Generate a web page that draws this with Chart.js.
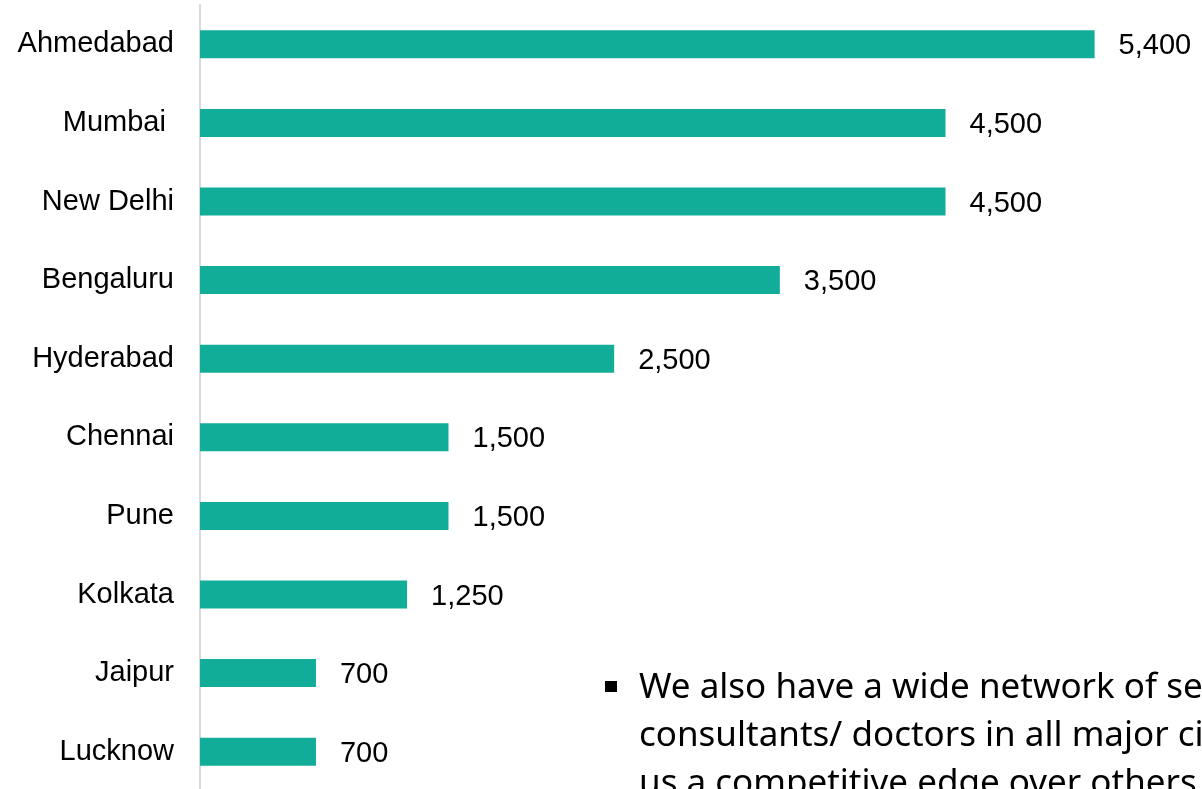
<!DOCTYPE html>
<html>
<head>
<meta charset="utf-8">
<script src="https://cdn.jsdelivr.net/npm/chart.js@4"></script>
<style>
    html, body { margin: 0; padding: 0; background: #fff; overflow: hidden; width: 1202px; height: 789px; }
    #wrap { position: absolute; left: 0; top: 0; width: 1202px; height: 800px; }
    #note {
        position: absolute; left: 605px; top: 661px; white-space: nowrap;
        font-family: "Noto Sans", "Open Sans", sans-serif; font-size: 35px; line-height: 48px; color: #000;
    }
    #note .bullet { position: absolute; left: 0; top: 20px; width: 12px; height: 11px; background: #000; }
    #note .txt { margin-left: 34px; }
</style>
</head>
<body>
<div id="wrap"><canvas id="cityChart" width="1202" height="800"></canvas></div>
<div id="note">
    <div class="bullet"></div>
    <div class="txt">We also have a wide network of senior<br>consultants/ doctors in all major cities, giving<br>us a competitive edge over others</div>
</div>
<script>
// city names and values
const cities = ['Ahmedabad', 'Mumbai ', 'New Delhi', 'Bengaluru', 'Hyderabad', 'Chennai', 'Pune', 'Kolkata', 'Jaipur', 'Lucknow'];
const counts = [5400, 4500, 4500, 3500, 2500, 1500, 1500, 1250, 700, 700];

const barColor = '#12ad98';

// draws the value to the right of each bar
const valueLabels = {
    id: 'valueLabels',
    afterDatasetsDraw(chart) {
        const ctx = chart.ctx;
        const meta = chart.getDatasetMeta(0);
        ctx.save();
        ctx.font = '29px "Liberation Sans", Arial, sans-serif';
        ctx.fillStyle = '#000';
        ctx.textAlign = 'left';
        ctx.textBaseline = 'middle';
        meta.data.forEach((bar, i) => {
            ctx.fillText(counts[i].toLocaleString('en-US'), bar.x + 24, bar.y + 2);
        });
        ctx.restore();
    }
};

new Chart(document.getElementById('cityChart').getContext('2d'), {
    type: 'bar',
    data: {
        labels: cities,
        datasets: [{
            data: counts,
            backgroundColor: barColor,
            borderWidth: 0,
            barPercentage: 0.356,
            categoryPercentage: 1
        }]
    },
    options: {
        indexAxis: 'y',
        responsive: false,
        animation: false,
        layout: { padding: { top: 5, bottom: 9, left: 0, right: 8 } },
        plugins: { legend: { display: false }, tooltip: { enabled: false } },
        scales: {
            x: {
                display: false,
                min: 0,
                max: 6000
            },
            y: {
                afterFit(scale) {
                    scale.width = 200;
                    scale.paddingTop = 0;
                    scale.paddingBottom = 0;
                },
                grid: { display: false, drawTicks: false },
                border: { display: true, color: '#d9d9d9', width: 2 },
                ticks: {
                    padding: 26,
                    color: '#000',
                    font: { family: '"Liberation Sans", Arial, sans-serif', size: 29 }
                }
            }
        }
    },
    plugins: [valueLabels]
});
</script>
</body>
</html>
